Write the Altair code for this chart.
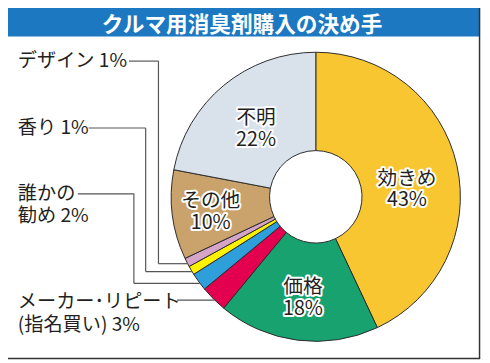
import math
import altair as alt
import pandas as pd

# ---- data ----
categories = ["効きめ", "価格", "メーカー・リピート(指名買い)", "誰かの勧め", "香り", "デザイン", "その他", "不明"]
display_names = ["効きめ", "価格", "メーカー･リピート\n(指名買い)", "誰かの\n勧め", "香り", "デザイン", "その他", "不明"]
values = [43, 18, 3, 2, 1, 1, 10, 22]
colors = ["#f8c630", "#17a270", "#e3004f", "#2e9fda", "#fff200", "#d6a4c9", "#c9a36b", "#d9e1ea"]
title_text = "クルマ用消臭剤購入の決め手"

inside = {"効きめ", "価格", "その他", "不明"}
labels = [
    (n + ("\n" if c in inside else " ") + f"{v}%")
    for c, n, v in zip(categories, display_names, values)
]
df = pd.DataFrame({"cat": categories, "value": values, "order": list(range(len(values))), "label": labels})

# ---- layout ----
W, H = 482, 355
CX, CY = 313, 189
R_OUT, R_IN = 147, 47
FONT = "Noto Sans CJK JP"
TXT = "#231f20"
LINE = "#555555"

base = alt.Chart(df)

arcs = base.mark_arc(radius=R_OUT, innerRadius=R_IN, stroke="#2b2b2b", strokeWidth=1).encode(
    theta=alt.Theta("value:Q", stack=True),
    color=alt.Color("cat:N", scale=alt.Scale(domain=categories, range=colors), legend=None),
    order=alt.Order("order:Q"),
    x=alt.value(CX),
    y=alt.value(CY),
)

stacked = base.transform_window(
    cum="sum(value)", sort=[alt.SortField("order")], frame=[None, 0]
).transform_calculate(mid="datum.cum - datum.value / 2")

theta_mid = alt.Theta("mid:Q", stack=None, scale=alt.Scale(domain=[0, 100], range=[0, 2 * math.pi]))

# inside labels: radius and angular offset per label
inside_pos = {"効きめ": (93, 0.14), "価格": (104, 0.0), "その他": (108, -0.02), "不明": (92, -0.03)}
layers = [arcs]
for cat, (r, toff) in inside_pos.items():
    sub = stacked.transform_filter(alt.datum.cat == cat)
    for halo in (True, False):
        kw = dict(radius=r, thetaOffset=toff, font=FONT, fontSize=20, lineBreak="\n",
                  lineHeight=22, align="center", baseline="middle", dy=-11)
        if halo:
            kw.update(fill="white", stroke="white", strokeWidth=4, strokeJoin="round")
        else:
            kw.update(fill=TXT)
        layers.append(sub.mark_text(**kw).encode(
            theta=theta_mid, text="label:N", x=alt.value(CX), y=alt.value(CY)))

# outside labels (left column); y is the first line's centre
outside_pos = {
    "デザイン": (10, 51),
    "香り": (10, 119),
    "誰かの勧め": (10, 186),
    "メーカー・リピート(指名買い)": (10, 296),
}
for cat, (x, y) in outside_pos.items():
    layers.append(base.transform_filter(alt.datum.cat == cat).mark_text(
        font=FONT, fontSize=19.5, lineBreak="\n", lineHeight=23, align="left",
        baseline="middle", fill=TXT).encode(text="label:N", x=alt.value(x), y=alt.value(y)))

# leader lines (annotation)
def seg(x1, y1, x2, y2, color=LINE, w=1.2):
    return base.transform_filter("datum.order == 0").mark_rule(color=color, strokeWidth=w).encode(
        x=alt.value(x1), y=alt.value(y1), x2=alt.value(x2), y2=alt.value(y2))

leaders = [
    (123, 51, 153, 51), (153, 51, 153, 257), (153, 257, 183, 257),
    (82, 119, 140, 119), (140, 119, 140, 265), (140, 265, 187, 265),
    (71, 186, 128, 186), (128, 186, 128, 277), (128, 277, 195, 277),
    (172, 294, 210, 294),
]
for s in leaders:
    layers.append(seg(*s))

# title bar
title_bar = base.transform_filter("datum.order == 0").mark_rect(color="#1b78c1").encode(
    x=alt.value(-8), x2=alt.value(480), y=alt.value(-8), y2=alt.value(26))
title = base.transform_filter("datum.order == 0").mark_text(
    text=title_text, font=FONT, fontSize=22, fontWeight="bold", fill="white",
    align="center", baseline="middle").encode(x=alt.value(238), y=alt.value(14))
frame_r = seg(479.5, -8, 479.5, 354, "#333333", 1.5)
frame_b = seg(-8, 353.5, 480, 353.5, "#333333", 1.5)
layers += [title_bar, title, frame_r, frame_b]

chart = alt.layer(*layers).properties(
    width=W, height=H, padding=0, autosize=alt.AutoSizeParams(type="none"), background="white"
).configure_view(stroke=None)

chart.save("out.html", embed_options={"renderer": "svg", "actions": False})
